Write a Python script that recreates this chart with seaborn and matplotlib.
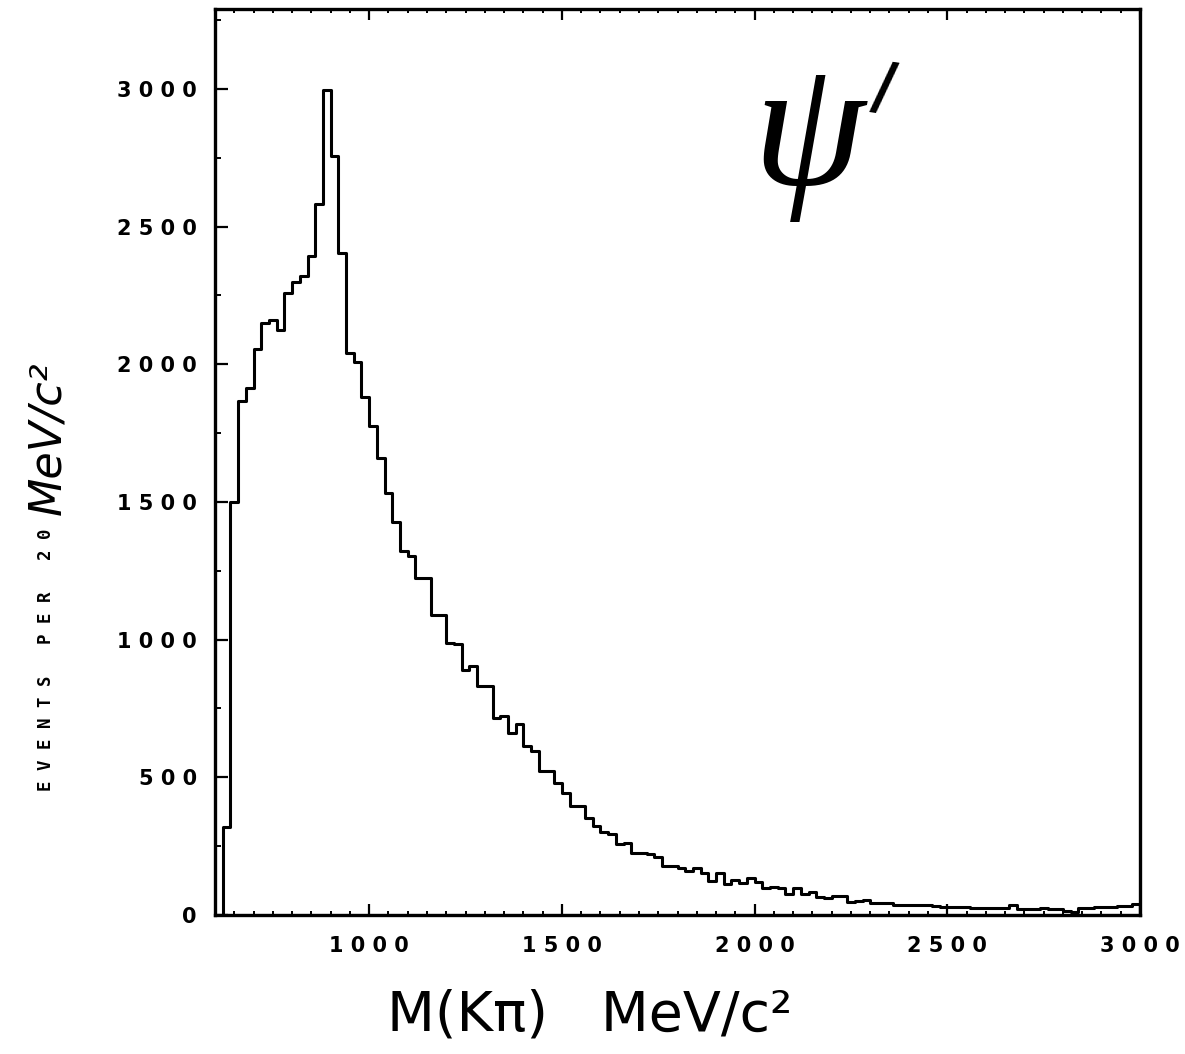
import numpy as np
import pandas as pd
import matplotlib
matplotlib.use("Agg")
import matplotlib.pyplot as plt
import matplotlib.ticker as mticker
import seaborn as sns

# ---- data: M(K pi) histogram, 20 MeV bins starting at 620 MeV ----
bin_width = 20
bin_start = 620
bin_stop = 3000
counts = [
    321, 1501, 1867, 1913, 2055, 2151, 2161, 2125, 2260, 2297,   # 620-800
    2321, 2394, 2583, 2995, 2758, 2404, 2041, 2007, 1882, 1777,  # 820-1000
    1661, 1532, 1426, 1323, 1304, 1223, 1223, 1090, 1088, 988,   # 1020-1200
    985, 890, 906, 832, 830, 717, 724, 661, 694, 615,            # 1220-1400
    597, 524, 524, 478, 442, 397, 397, 351, 324, 302,            # 1420-1600
    293, 257, 262, 226, 226, 220, 212, 179, 179, 169,            # 1620-1800
    161, 171, 151, 123, 151, 111, 127, 115, 133, 120,            # 1820-2000
    97, 100, 98, 77, 98, 77, 82, 64, 63, 70,                     # 2020-2200
    68, 48, 52, 55, 44, 44, 42, 36, 36, 36,                      # 2220-2400
    35, 35, 33, 30, 30, 30, 30, 24, 24, 24,                      # 2420-2600
    24, 24, 36, 20, 20, 20, 26, 20, 20, 15,                      # 2620-2800
    10, 26, 26, 28, 28, 28, 33, 33, 40,                          # 2820-2980
]
bin_left = list(range(bin_start, bin_stop, bin_width))
x_ticks = [1000, 1500, 2000, 2500, 3000]
y_ticks = [0, 500, 1000, 1500, 2000, 2500, 3000]

df = pd.DataFrame({"mass": np.array(bin_left, dtype=float) + bin_width / 2,
                   "events": np.array(counts, dtype=float)})

sns.set_style("white")
plt.rcParams["font.family"] = ["DejaVu Sans"]
plt.rcParams["text.color"] = "black"
plt.rcParams["xtick.color"] = "black"
plt.rcParams["ytick.color"] = "black"

fig = plt.figure(figsize=(11.85, 10.54), dpi=100)
ax = fig.add_axes([215 / 1185, 1 - 915 / 1054, (1140 - 215) / 1185, (915 - 9) / 1054])

sns.histplot(
    data=df, x="mass", weights="events",
    binwidth=bin_width, binrange=(bin_start, bin_stop),
    element="step", fill=True, color="black",
    ax=ax,
)
# show the step outline only (no fill), as in the original plotter output
for coll in ax.collections:
    coll.set_facecolor("none")
    coll.set_edgecolor("black")
    coll.set_linewidth(2.2)

ax.set_xlim(600, 3000)
ax.set_ylim(0, 3290)
ax.set_xlabel("")
ax.set_ylabel("")

for side in ["left", "right", "top", "bottom"]:
    ax.spines[side].set_visible(True)
    ax.spines[side].set_linewidth(2.4)
    ax.spines[side].set_color("black")

ax.xaxis.set_major_locator(mticker.FixedLocator(x_ticks))
ax.xaxis.set_minor_locator(mticker.MultipleLocator(50))
ax.yaxis.set_major_locator(mticker.FixedLocator(y_ticks))
ax.yaxis.set_minor_locator(mticker.MultipleLocator(250))

spaced = mticker.FuncFormatter(lambda v, p: " ".join(str(int(round(v)))))
ax.xaxis.set_major_formatter(spaced)
ax.yaxis.set_major_formatter(spaced)

ax.tick_params(axis="x", which="major", direction="in", length=8, width=1.6,
               top=True, bottom=True, pad=15, labelsize=15,
               colors="black", labelcolor="black")
ax.tick_params(axis="x", which="minor", direction="in", length=3, width=1.4,
               top=True, bottom=True, colors="black")
ax.tick_params(axis="y", which="major", direction="in", length=9, width=1.6,
               left=True, right=False, pad=13, labelsize=15,
               colors="black", labelcolor="black")
ax.tick_params(axis="y", which="minor", direction="in", length=4, width=1.4,
               left=True, right=False, colors="black")

for lab in ax.get_xticklabels() + ax.get_yticklabels():
    lab.set_family("DejaVu Sans")
    lab.set_fontweight("bold")
    lab.set_color("black")

# y-axis label: typed part + handwritten part
fig.text(46 / 1185, 1 - 660 / 1054, "E V E N T S   P E R   2 0", rotation=90,
         ha="center", va="center", fontsize=12.5, fontweight="bold",
         family="DejaVu Sans Mono", color="black")
fig.text(48 / 1185, 1 - 438 / 1054, "MeV/c²", rotation=90, ha="center", va="center",
         fontsize=32, style="italic", color="black")

# x-axis label (handwritten in original)
fig.text(590 / 1185, 1 - 1015 / 1054, "M(Kπ)   MeV/c²", ha="center", va="center",
         fontsize=40, color="black")

# psi-prime annotation
fig.text(808 / 1185, 1 - 140 / 1054, "ψ", ha="center", va="center",
         fontsize=130, style="italic", family="Liberation Serif", color="black")
fig.text(884 / 1185, 1 - 90 / 1054, "/", ha="center", va="center",
         fontsize=46, fontweight="bold", color="black", rotation=-8)

fig.savefig("out.png", dpi=100, facecolor="white")
